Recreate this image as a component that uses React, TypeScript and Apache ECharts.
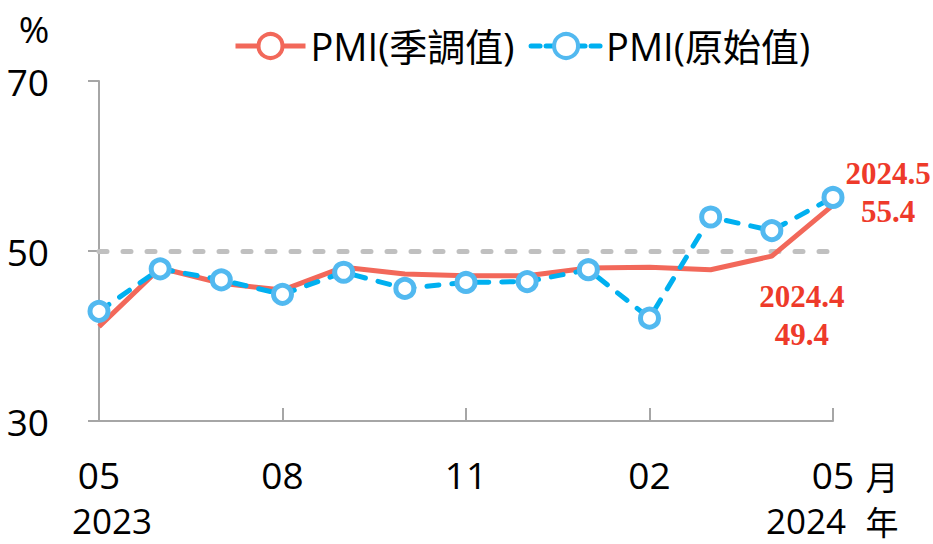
import React, { useEffect, useRef } from 'react';
import * as echarts from 'echarts';

// ---- data ----
const periods = ['2023.05', '2023.06', '2023.07', '2023.08', '2023.09', '2023.10', '2023.11', '2023.12', '2024.01', '2024.02', '2024.03', '2024.04', '2024.05'];
const pmiSeasonal = [41.1, 48.0, 46.2, 45.4, 48.1, 47.3, 47.1, 47.1, 48.0, 48.1, 47.8, 49.4, 55.4];
const pmiRaw = [42.9, 47.9, 46.6, 44.9, 47.5, 45.6, 46.3, 46.4, 47.8, 42.1, 54.0, 52.4, 56.3];
const yMin = 30;
const yMax = 70;
const yStep = 20;
const threshold = 50;
const seriesNames = ['PMI(季調值)', 'PMI(原始值)'];
const annotatedIdx = [11, 12];
const annotatedTag = ['2024.4', '2024.5'];
const yearLabels = ['2023', '2024'];

const RED = '#F2685A';
const RED_TXT = '#EE3A2A';
const BLUE = '#00B0F0';
const BLUE_MK = '#52B9F0';
const FONT = "'Open Sans', 'Noto Sans CJK TC', sans-serif";
const CJK = "'Noto Sans CJK TC', sans-serif";

const annOffsets: Record<number, [number, number]> = { 11: [30, 59], 12: [55, -13] };

export default function App() {
  const ref = useRef<HTMLDivElement>(null);
  useEffect(() => {
    if (!ref.current) return;
    const chart = echarts.init(ref.current, undefined, { renderer: 'svg' });
    const option: any = {
      animation: false,
      backgroundColor: '#fff',
      grid: { left: 99, right: 100, top: 81, bottom: 123 },
      legend: {
        left: 228,
        top: 22,
        itemWidth: 70,
        itemHeight: 30,
        itemGap: 14,
        data: [
          {
            name: seriesNames[0],
            lineStyle: { color: RED, width: 5 },
            itemStyle: { color: '#fff', borderColor: RED, borderWidth: 4 },
          },
          {
            name: seriesNames[1],
            lineStyle: { color: BLUE, width: 5, type: [9, 6] },
            itemStyle: { color: '#fff', borderColor: BLUE_MK, borderWidth: 4 },
          },
        ],
        textStyle: { fontSize: 38, fontFamily: FONT, color: '#000' },
      },
      xAxis: {
        type: 'category',
        data: periods,
        boundaryGap: false,
        axisLine: { lineStyle: { color: '#A6A6A6', width: 2 } },
        axisTick: { show: true, inside: true, length: 13, interval: 2, lineStyle: { color: '#A6A6A6', width: 2 } },
        axisLabel: {
          interval: 2,
          margin: 35,
          fontSize: 37,
          fontFamily: FONT,
          color: '#000',
          formatter: (v: string) => v.split('.')[1],
        },
        splitLine: { show: false },
      },
      yAxis: {
        type: 'value',
        min: yMin,
        max: yMax,
        interval: yStep,
        axisLine: { show: true, lineStyle: { color: '#A6A6A6', width: 2 } },
        axisTick: { show: true, length: 11, lineStyle: { color: '#A6A6A6', width: 2 } },
        axisLabel: { margin: 50, fontSize: 37, fontFamily: FONT, color: '#000' },
        splitLine: { show: false },
      },
      graphic: [
        { type: 'text', x: 34, y: 28, style: { text: '%', font: `37px ${FONT}`, fill: '#000', textAlign: 'center', textVerticalAlign: 'middle' } },
        { type: 'text', x: 112, y: 520, style: { text: yearLabels[0], font: `35px ${FONT}`, lineHeight: 35, fill: '#000', textAlign: 'center', textVerticalAlign: 'middle' } },
        { type: 'text', x: 806, y: 520, style: { text: yearLabels[1], font: `35px ${FONT}`, lineHeight: 35, fill: '#000', textAlign: 'center', textVerticalAlign: 'middle' } },
        { type: 'text', x: 882, y: 476, style: { text: '月', font: `33px ${CJK}`, lineHeight: 33, fill: '#000', textAlign: 'center', textVerticalAlign: 'middle' } },
        { type: 'text', x: 882, y: 521, style: { text: '年', font: `33px ${CJK}`, lineHeight: 33, fill: '#000', textAlign: 'center', textVerticalAlign: 'middle' } },
      ],
      series: [
        {
          name: seriesNames[0],
          type: 'line',
          data: pmiSeasonal,
          showSymbol: false,
          symbol: 'circle',
          z: 3,
          lineStyle: { color: RED, width: 5 },
          itemStyle: { color: '#fff', borderColor: RED, borderWidth: 4 },
          markLine: {
            silent: true,
            symbol: 'none',
            z: 1,
            label: { show: false },
            lineStyle: { color: '#C0C0C0', width: 5, type: [8, 16], cap: 'round' },
            data: [{ yAxis: threshold }],
          },
          markPoint: {
            symbol: 'circle',
            symbolSize: 1,
            itemStyle: { color: 'transparent' },
            label: {
              show: true,
              position: 'inside',
              color: RED_TXT,
              fontFamily: "'Liberation Serif', 'Times New Roman', serif",
              fontWeight: 'bold',
              fontSize: 31,
              lineHeight: 38,
              align: 'center',
              verticalAlign: 'middle',
            },
            data: annotatedIdx.map((idx, k) => ({
              coord: [idx, pmiSeasonal[idx]],
              value: pmiSeasonal[idx],
              label: {
                formatter: `${annotatedTag[k]}\n${pmiSeasonal[idx].toFixed(1)}`,
                offset: annOffsets[idx],
              },
            })),
          },
        },
        {
          name: seriesNames[1],
          type: 'line',
          data: pmiRaw,
          symbol: 'circle',
          symbolSize: 18,
          z: 4,
          lineStyle: { color: BLUE, width: 5, type: [12, 13], cap: 'round' },
          itemStyle: { color: '#fff', borderColor: BLUE_MK, borderWidth: 5 },
        },
      ],
    };
    chart.setOption(option);
    return () => chart.dispose();
  }, []);
  return <div ref={ref} style={{ position: 'fixed', left: 0, top: 0, width: 933, height: 544 }} />;
}
